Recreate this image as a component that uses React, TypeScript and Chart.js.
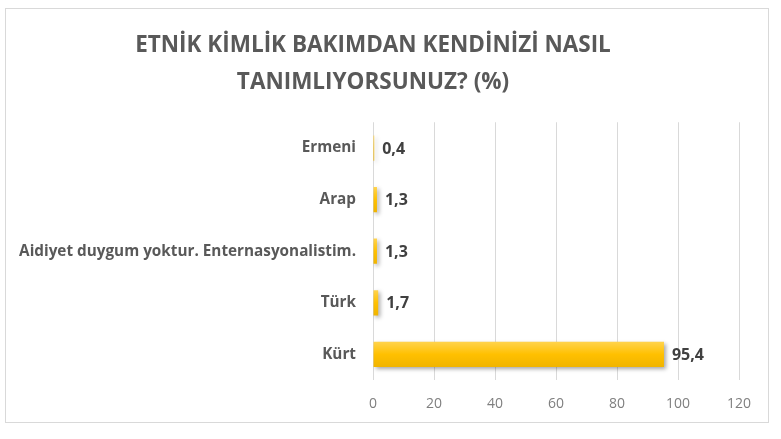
import { useRef, useEffect } from "react"
import { Chart, registerables, Plugin } from "chart.js"

Chart.register(...registerables)

const categories = [
    "Ermeni",
    "Arap",
    "Aidiyet duygum yoktur. Enternasyonalistim.",
    "Türk",
    "Kürt",
]
const values = [0.4, 1.3, 1.3, 1.7, 95.4]
const valueLabels = ["0,4", "1,3", "1,3", "1,7", "95,4"]
const titleLines = ["ETNİK KİMLİK BAKIMDAN KENDİNİZİ NASIL", "TANIMLIYORSUNUZ? (%)"]

const FONT = "'Open Sans', sans-serif"
const BAR_SHARE = 0.49

// shadow under the bars
const shadowPlugin: Plugin<"bar"> = {
    id: "barShadow",
    beforeDatasetsDraw(chart) {
        const ctx = chart.ctx
        ctx.save()
        ctx.shadowColor = "rgba(0, 0, 0, 0.35)"
        ctx.shadowBlur = 4
        ctx.shadowOffsetX = 2
        ctx.shadowOffsetY = 2
    },
    afterDatasetsDraw(chart) {
        chart.ctx.restore()
    },
}

// value labels at the end of each bar
const valueLabelPlugin: Plugin<"bar"> = {
    id: "valueLabels",
    afterDatasetsDraw(chart) {
        const ctx = chart.ctx
        const meta = chart.getDatasetMeta(0)
        ctx.save()
        ctx.font = `bold 16px ${FONT}`
        ctx.fillStyle = "#404040"
        ctx.textAlign = "left"
        ctx.textBaseline = "middle"
        meta.data.forEach((bar, i) => {
            ctx.fillText(valueLabels[i], bar.x + 8, bar.y + 1)
        })
        ctx.restore()
    },
}

export default function App() {
    const chartRef = useRef<HTMLCanvasElement | null>(null)
    const chartInstance = useRef<Chart | null>(null)

    useEffect(() => {
        if (!chartRef.current) return
        if (chartInstance.current) chartInstance.current.destroy()
        const ctx = chartRef.current.getContext("2d")
        if (!ctx) return

        chartInstance.current = new Chart(ctx, {
            type: "bar",
            data: {
                labels: categories,
                datasets: [
                    {
                        data: values,
                        backgroundColor: (c: any) => {
                            const chart = c.chart
                            const y = chart.scales?.y
                            if (!y || !chart.chartArea) return "#FFC000"
                            const center = y.getPixelForTick(c.dataIndex)
                            const half = (y.height / categories.length) * BAR_SHARE / 2
                            const g = chart.ctx.createLinearGradient(0, center - half, 0, center + half)
                            g.addColorStop(0, "#FFD34D")
                            g.addColorStop(0.5, "#FFC000")
                            g.addColorStop(1, "#F0B400")
                            return g
                        },
                        borderWidth: 0,
                        barPercentage: 0.7,
                        categoryPercentage: 0.7,
                    },
                ],
            },
            options: {
                indexAxis: "y",
                animation: false,
                responsive: true,
                maintainAspectRatio: false,
                layout: {
                    padding: { left: 1, right: 29, top: 18, bottom: -5 },
                },
                plugins: {
                    legend: { display: false },
                    tooltip: { enabled: false },
                    title: {
                        display: true,
                        text: titleLines,
                        color: "#595959",
                        font: { family: FONT, size: 22.5, weight: "bold", lineHeight: 1.65 },
                        padding: { top: 0, bottom: 21 },
                    },
                },
                scales: {
                    x: {
                        min: 0,
                        max: 120,
                        ticks: {
                            stepSize: 20,
                            color: "#7f7f7f",
                            font: { family: FONT, size: 14 },
                            padding: 15,
                        },
                        grid: {
                            color: "#d9d9d9",
                            drawTicks: false,
                        },
                        border: { display: false },
                    },
                    y: {
                        ticks: {
                            color: "#595959",
                            font: { family: FONT, size: 15.3, weight: "bold" },
                            padding: 17,
                        },
                        grid: { display: false, drawTicks: false },
                        border: { display: false },
                    },
                },
            },
            plugins: [shadowPlugin, valueLabelPlugin],
        })

        return () => {
            if (chartInstance.current) {
                chartInstance.current.destroy()
                chartInstance.current = null
            }
        }
    }, [])

    return (
        <div
            style={{
                position: "absolute",
                left: 5,
                top: 8,
                width: 762,
                height: 413,
                border: "1px solid #d9d9d9",
                background: "#fff",
            }}
        >
            <canvas ref={chartRef} />
        </div>
    )
}
